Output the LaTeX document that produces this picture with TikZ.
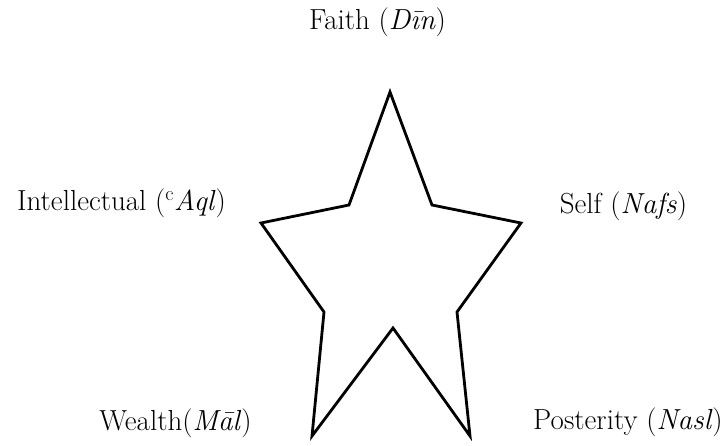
\documentclass[tikz,border=0pt]{standalone}
\usepackage{fontspec}
\tikzset{pillar/.style={font=\fontsize{29}{34}\selectfont, inner sep=0pt, anchor=base}}

\begin{document}
\begin{tikzpicture}[x=1pt,y=-1pt]
\useasboundingbox (0,0) rectangle (728,445);
% the five labels
\node[pillar] (din) at (377.5,29) {Faith (\textit{Dīn})};
\node[pillar] (aql) at (121.5,210) {Intellectual (\textsuperscript{c}\textit{Aql})};
\node[pillar] (nafs) at (623.5,213) {Self (\textit{Nafs})};
\node[pillar] (mal) at (175.5,430) {Wealth(\textit{Māl})};
\node[pillar] (nasl) at (628,429) {Posterity (\textit{Nasl})};
% star
\draw[line width=2.8pt] (390,92) -- (432,205) -- (521,223) -- (457,312) -- (470,436)
  -- (393,328) -- (312,436) -- (324,312) -- (261,223) -- (349,205) -- cycle;
\end{tikzpicture}
\end{document}
